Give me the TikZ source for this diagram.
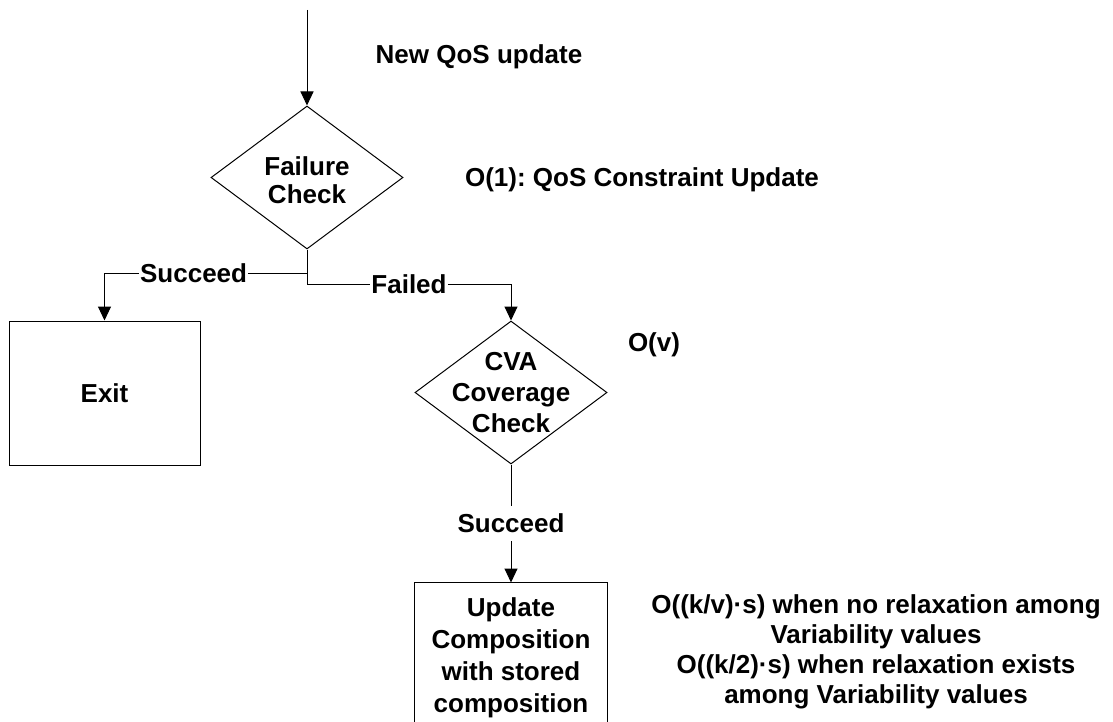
\documentclass[tikz,border=0pt]{standalone}
\usepackage{fontspec}
\setmainfont{Liberation Sans}
\usetikzlibrary{shapes.geometric,arrows.meta}

\begin{document}
\frenchspacing
\begin{tikzpicture}[x=0.5pt,y=-0.5pt,line width=0.5pt,
  every node/.style={font=\fontsize{13}{15.5}\selectfont\bfseries,align=center},
  decision/.style={draw,diamond,inner sep=0pt,minimum width=96pt,minimum height=71.5pt},
  block/.style={draw,rectangle,inner sep=0pt,minimum width=95.5pt,minimum height=72pt},
  flow/.style={-{Triangle[length=7pt,width=6.5pt]}},
  tag/.style={fill=white,inner xsep=0.5pt,inner ysep=2.5pt}]
\useasboundingbox (0,0) rectangle (1113,722);

% Failure check
\coordinate (start) at (307,10);
\node[decision,label={[font=\fontsize{13}{14}\selectfont\bfseries,yshift=-1.5pt]center:Failure\\Check}] (fail) at (307,177.5) {};
\coordinate (split) at (307,273);

% Exit and CVA check
\node[block] (exit) at (104.5,393) {Exit};
\node[decision,label=center:{CVA\\Coverage\\Check}] (cva) at (511,392.5) {};

% Update (box runs off the bottom)
\node[minimum width=96pt,minimum height=75pt,inner sep=0pt,
  font=\fontsize{13}{16}\selectfont\bfseries] (upd) at (511,658)
  {Update\\Composition\\with stored\\composition};
\draw (upd.south west) -- (upd.north west) -- (upd.north east) -- (upd.south east);

% Arrows
\draw[flow] (start) -- (fail.north);
\draw (fail.south) -- (split);
\draw[flow] (split) -| node[tag,pos=0.28] {Succeed} (exit.north);
\draw[flow] (split) -- ++(0,11) -| node[tag,pos=0.25] {Failed} (cva.north);
\draw[flow] (cva.south) -- node[tag,inner ysep=4pt] {Succeed} (upd.north);

% Cost notes
\node (newqos) at (479,57) {New QoS update};
\node (cost1) at (642,180) {O(1): QoS Constraint Update};
\node (costv) at (654,345) {O(v)};
\node[font=\fontsize{13}{15}\selectfont\bfseries] (costs) at (876,652)
  {O((k/v)·s) when no relaxation among\\Variability values\\
   O((k/2)·s) when relaxation exists\\among Variability values};
\end{tikzpicture}
\end{document}
